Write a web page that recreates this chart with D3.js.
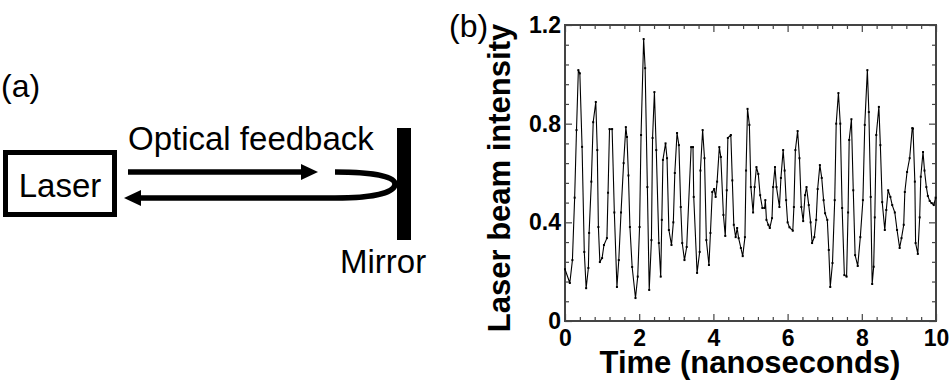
<!DOCTYPE html>
<html>
  <head>
    <meta charset="utf-8">
    <script src="https://d3js.org/d3.v7.min.js"></script>
    <style>
      body { margin: 0; background: #fff; }
      svg { display: block; font-family: "Liberation Sans", Arial, sans-serif; }
      .tick text { font-family: "Liberation Sans", Arial, sans-serif; font-weight: bold; font-size: 23px; fill: #000; }
    </style>
  </head>
<body>
<script>
"use strict";

// time axis, nanoseconds
var timeNs = [
  0.00, 0.13, 0.20, 0.26, 0.31, 0.36, 0.40, 0.46, 0.52, 0.57, 0.63, 0.65, 0.71, 0.76, 0.83, 0.87,
  0.90, 0.94, 1.00, 1.05, 1.13, 1.16, 1.20, 1.27, 1.33, 1.40, 1.45, 1.51, 1.58, 1.64, 1.67, 1.71,
  1.75, 1.81, 1.90, 1.96, 2.01, 2.05, 2.12, 2.16, 2.22, 2.27, 2.33, 2.36, 2.41, 2.46, 2.53, 2.58,
  2.61, 2.64, 2.71, 2.75, 2.80, 2.87, 2.92, 2.96, 3.02, 3.07, 3.12, 3.16, 3.22, 3.28, 3.40, 3.45,
  3.47, 3.56, 3.63, 3.65, 3.71, 3.76, 3.81, 3.88, 3.92, 3.97, 4.02, 4.06, 4.10, 4.16, 4.20, 4.27,
  4.32, 4.36, 4.39, 4.47, 4.51, 4.55, 4.60, 4.64, 4.68, 4.74, 4.79, 4.85, 4.88, 4.92, 4.97, 5.01,
  5.07, 5.11, 5.16, 5.21, 5.26, 5.32, 5.38, 5.40, 5.43, 5.48, 5.52, 5.58, 5.61, 5.66, 5.70, 5.78,
  5.82, 5.88, 5.92, 5.96, 6.00, 6.05, 6.14, 6.17, 6.21, 6.27, 6.32, 6.37, 6.42, 6.47, 6.51, 6.57,
  6.62, 6.66, 6.72, 6.77, 6.81, 6.87, 6.92, 6.97, 7.01, 7.07, 7.11, 7.15, 7.21, 7.27, 7.31, 7.37,
  7.42, 7.47, 7.53, 7.59, 7.63, 7.66, 7.72, 7.77, 7.82, 7.89, 7.96, 8.03, 8.08, 8.15, 8.19, 8.24,
  8.28, 8.32, 8.35, 8.39, 8.46, 8.50, 8.55, 8.62, 8.66, 8.71, 8.77, 8.82, 8.89, 8.95, 9.02, 9.07,
  9.13, 9.16, 9.22, 9.29, 9.36, 9.38, 9.43, 9.45, 9.51, 9.56, 9.59, 9.65, 9.69, 9.74, 9.78, 9.83,
  9.88, 9.94, 9.99
];

// laser beam intensity (arb. units)
var intensity = [
  0.21, 0.154, 0.247, 0.50, 0.774, 1.017, 1.004, 0.706, 0.28, 0.133, 0.215, 0.357, 0.565, 0.806, 0.888, 0.693,
  0.381, 0.239, 0.255, 0.308, 0.336, 0.52, 0.778, 0.778, 0.44, 0.138, 0.247, 0.44, 0.64, 0.786, 0.746, 0.59,
  0.381, 0.219, 0.093, 0.18, 0.381, 0.754, 1.143, 1.025, 0.543, 0.126, 0.328, 0.742, 0.928, 0.693, 0.316, 0.18,
  0.41, 0.653, 0.72, 0.66, 0.369, 0.308, 0.40, 0.60, 0.762, 0.713, 0.462, 0.316, 0.247, 0.30, 0.705, 0.705,
  0.503, 0.195, 0.28, 0.61, 0.774, 0.66, 0.328, 0.227, 0.357, 0.523, 0.535, 0.503, 0.565, 0.705, 0.665, 0.43,
  0.345, 0.53, 0.742, 0.754, 0.57, 0.39, 0.34, 0.377, 0.336, 0.296, 0.263, 0.34, 0.61, 0.86, 0.795, 0.543,
  0.44, 0.543, 0.624, 0.596, 0.51, 0.458, 0.458, 0.49, 0.41, 0.39, 0.377, 0.417, 0.543, 0.624, 0.543, 0.462,
  0.58, 0.693, 0.61, 0.49, 0.40, 0.38, 0.366, 0.462, 0.693, 0.77, 0.66, 0.462, 0.405, 0.51, 0.543, 0.47,
  0.40, 0.316, 0.34, 0.41, 0.535, 0.632, 0.58, 0.49, 0.437, 0.41, 0.288, 0.138, 0.235, 0.49, 0.80, 0.924,
  0.80, 0.458, 0.186, 0.18, 0.44, 0.734, 0.818, 0.53, 0.267, 0.223, 0.34, 0.49, 0.795, 1.017, 0.847, 0.503,
  0.15, 0.22, 0.42, 0.754, 0.868, 0.713, 0.482, 0.369, 0.45, 0.53, 0.503, 0.47, 0.44, 0.369, 0.296, 0.336,
  0.39, 0.523, 0.604, 0.66, 0.782, 0.78, 0.565, 0.316, 0.272, 0.42, 0.585, 0.685, 0.61, 0.543, 0.507, 0.487,
  0.478, 0.47, 0.50
];

var xMajor = [0, 2, 4, 6, 8, 10];
var yMajor = [0, 0.4, 0.8, 1.2];
var yLabels = ["0", "0.4", "0.8", "1.2"];

var W = 950, H = 389;
var plot = { left: 565, right: 936, top: 25, bottom: 321 };

var svg = d3.select("body").append("svg").attr("width", W).attr("height", H);

// ---------- panel (a): schematic ----------
var a = svg.append("g");
a.append("text").attr("x", 1).attr("y", 97).style("font-size", "32px").text("(a)");

a.append("rect").attr("x", 5.5).attr("y", 152.5).attr("width", 109).attr("height", 62)
  .attr("fill", "none").attr("stroke", "#000").attr("stroke-width", 5);
a.append("text").attr("x", 60).attr("y", 197).attr("text-anchor", "middle")
  .style("font-size", "33px").text("Laser");

a.append("text").attr("x", 128).attr("y", 150).style("font-size", "33px").text("Optical feedback");

// outgoing arrow
a.append("line").attr("x1", 128).attr("y1", 172).attr("x2", 304).attr("y2", 172)
  .attr("stroke", "#000").attr("stroke-width", 5.5);
a.append("path").attr("d", "M301,164 L318,172 L301,180 Z").attr("fill", "#000");

// returning arrow with the U-turn at the mirror
a.append("path")
  .attr("d", "M335,172 C372,172 395,176 395,184 C395,193 372,198 335,198 L138,198")
  .attr("fill", "none").attr("stroke", "#000").attr("stroke-width", 5.5);
a.append("path").attr("d", "M141,190 L124,198 L141,206 Z").attr("fill", "#000");

a.append("rect").attr("x", 397).attr("y", 128).attr("width", 14).attr("height", 112).attr("fill", "#000");
a.append("text").attr("x", 340).attr("y", 273).style("font-size", "33px").text("Mirror");

// ---------- panel (b): time series ----------
svg.append("text").attr("x", 449).attr("y", 37).style("font-size", "32px").text("(b)");

var x = d3.scaleLinear().domain([0, 10]).range([plot.left, plot.right]);
var y = d3.scaleLinear().domain([0, 1.2]).range([plot.bottom, plot.top]);

var xMinor = d3.range(0, 10.001, 0.4).filter(function(v) { return Math.abs(v / 2 - Math.round(v / 2)) > 1e-6; });
var yMinor = d3.range(0, 1.2001, 0.08).filter(function(v) { return Math.abs(v / 0.4 - Math.round(v / 0.4)) > 1e-6; });

var axisColor = "#444";

function addAxis(axis, tx, ty, labels) {
  var g = svg.append("g").attr("transform", "translate(" + tx + "," + ty + ")").call(axis);
  g.select(".domain").remove();
  g.selectAll(".tick line").attr("stroke", axisColor).attr("stroke-width", 1.2);
  if (!labels) g.selectAll(".tick text").remove();
  return g;
}

// bottom
addAxis(d3.axisBottom(x).tickValues(xMajor).tickSize(-7).tickPadding(9).tickFormat(d3.format("d")), 0, plot.bottom, true);
addAxis(d3.axisBottom(x).tickValues(xMinor).tickSize(-4), 0, plot.bottom, false);
// top
addAxis(d3.axisTop(x).tickValues(xMajor).tickSize(-7), 0, plot.top, false);
addAxis(d3.axisTop(x).tickValues(xMinor).tickSize(-4), 0, plot.top, false);
// left
addAxis(d3.axisLeft(y).tickValues(yMajor).tickSize(-7).tickPadding(4)
  .tickFormat(function(d, i) { return yLabels[i]; }), plot.left, 0, true);
addAxis(d3.axisLeft(y).tickValues(yMinor).tickSize(-4), plot.left, 0, false);
// right
addAxis(d3.axisRight(y).tickValues(yMajor).tickSize(-7), plot.right, 0, false);
addAxis(d3.axisRight(y).tickValues(yMinor).tickSize(-4), plot.right, 0, false);

svg.append("rect")
  .attr("x", plot.left).attr("y", plot.top)
  .attr("width", plot.right - plot.left).attr("height", plot.bottom - plot.top)
  .attr("fill", "none").attr("stroke", axisColor).attr("stroke-width", 2);

var series = timeNs.map(function(t, i) { return { t: t, v: intensity[i] }; });

var line = d3.line().x(function(d) { return x(d.t); }).y(function(d) { return y(d.v); });

svg.append("path").datum(series)
  .attr("d", line)
  .attr("fill", "none").attr("stroke", "#000").attr("stroke-width", 1.1)
  .attr("stroke-linejoin", "round");

svg.append("g").selectAll("rect").data(series).enter().append("rect")
  .attr("x", function(d) { return x(d.t) - 1; })
  .attr("y", function(d) { return y(d.v) - 1; })
  .attr("width", 2).attr("height", 2).attr("fill", "#000");

// axis titles
svg.append("text")
  .attr("transform", "translate(510,178) rotate(-90)")
  .attr("text-anchor", "middle")
  .style("font-size", "31px").style("font-weight", "bold")
  .text("Laser beam intensity");

svg.append("text")
  .attr("x", 750).attr("y", 373).attr("text-anchor", "middle")
  .style("font-size", "31px").style("font-weight", "bold")
  .text("Time (nanoseconds)");
</script>
</body>
</html>
